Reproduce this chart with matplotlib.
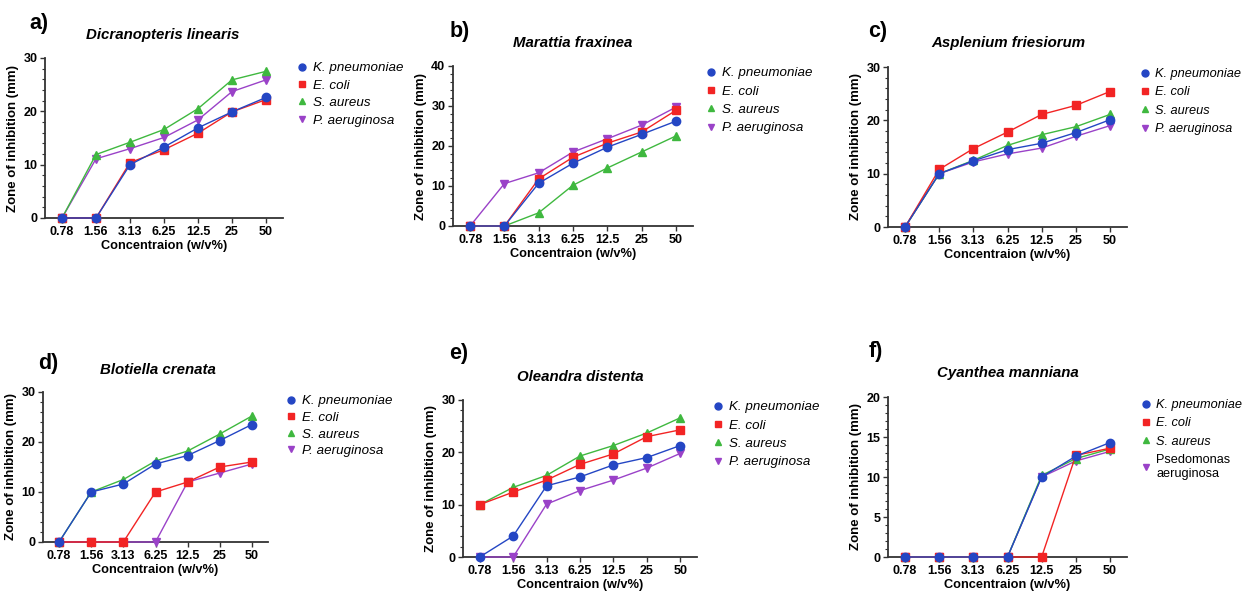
import matplotlib
matplotlib.use("Agg")
import matplotlib.pyplot as plt
from matplotlib.lines import Line2D
from matplotlib.ticker import MultipleLocator, AutoMinorLocator

plt.rcParams['font.family'] = ['Liberation Sans', 'DejaVu Sans']

concentrations = ["0.78", "1.56", "3.13", "6.25", "12.5", "25", "50"]
series_names = ["K. pneumoniae", "E. coli", "S. aureus", "P. aeruginosa"]

# a) Dicranopteris linearis
a_kp = [0, 0, 10.0, 13.3, 16.9, 19.9, 22.6]
a_ec = [0, 0, 10.4, 12.8, 15.9, 19.9, 22.2]
a_sa = [0, 11.9, 14.2, 16.6, 20.5, 25.9, 27.5]
a_pa = [0, 11.1, 13.0, 15.1, 18.4, 23.7, 25.9]

# b) Marattia fraxinea
b_kp = [0, 0, 10.7, 15.7, 19.7, 22.9, 26.2]
b_ec = [0, 0, 11.8, 17.2, 20.7, 23.5, 28.9]
b_sa = [0, 0, 3.3, 10.2, 14.5, 18.5, 22.5]
b_pa = [0, 10.6, 13.3, 18.5, 21.8, 25.2, 29.7]

# c) Asplenium friesiorum
c_kp = [0, 10.0, 12.4, 14.5, 15.7, 17.7, 20.1]
c_ec = [0, 10.8, 14.7, 17.8, 21.1, 22.8, 25.4]
c_sa = [0, 10.0, 12.5, 15.3, 17.3, 18.8, 21.1]
c_pa = [0, 10.0, 12.2, 13.7, 14.8, 17.0, 19.0]

# d) Blotiella crenata
d_kp = [0, 10.0, 11.6, 15.6, 17.3, 20.3, 23.5]
d_ec = [0, 0, 0, 10.0, 12.0, 15.0, 16.0]
d_sa = [0, 10.0, 12.5, 16.2, 18.2, 21.6, 25.2]
d_pa = [0, 0, 0, 0, 12.0, 13.8, 15.6]

# e) Oleandra distenta
e_kp = [0, 4.0, 13.6, 15.3, 17.6, 19.0, 21.3]
e_ec = [10.0, 12.4, 14.7, 17.7, 19.7, 23.0, 24.3]
e_sa = [10.0, 13.3, 15.6, 19.3, 21.3, 23.7, 26.6]
e_pa = [0, 0, 10.1, 12.7, 14.7, 17.0, 19.8]

# f) Cyanthea manniana
f_kp = [0, 0, 0, 0, 10.0, 12.6, 14.3]
f_ec = [0, 0, 0, 0, 0, 12.7, 13.6]
f_sa = [0, 0, 0, 0, 10.2, 12.3, 13.5]
f_pa = [0, 0, 0, 0, 10.0, 12.0, 13.2]

colors = ['#2446c4', '#f22424', '#3fb83f', '#9a42c8']
markers = ['o', 's', '^', 'v']
msizes = [6.0, 5.5, 5.5, 5.5]

panels = [
    dict(letter="a)", title="Dicranopteris linearis", data=[a_kp, a_ec, a_sa, a_pa], ymax=30, ystep=10,
         rect=(45, 58, 283, 218), leg=(297, 62), ttl=(163, 35), lt=(39, 24), names=series_names,
         lsp=0.38, lfs=9.6),
    dict(letter="b)", title="Marattia fraxinea", data=[b_kp, b_ec, b_sa, b_pa], ymax=40, ystep=10,
         rect=(453, 66, 693, 226), leg=(706, 67), ttl=(573, 43), lt=(460, 32), names=series_names,
         lsp=0.45, lfs=9.6),
    dict(letter="c)", title="Asplenium friesiorum", data=[c_kp, c_ec, c_sa, c_pa], ymax=30, ystep=10,
         rect=(888, 67, 1127, 227), leg=(1140, 68), ttl=(1008, 43), lt=(878, 32), names=series_names,
         lsp=0.5, lfs=9.2),
    dict(letter="d)", title="Blotiella crenata", data=[d_kp, d_ec, d_sa, d_pa], ymax=30, ystep=10,
         rect=(43, 392, 268, 542), leg=(286, 395), ttl=(158, 370), lt=(48, 363), names=series_names,
         lsp=0.32, lfs=9.6),
    dict(letter="e)", title="Oleandra distenta", data=[e_kp, e_ec, e_sa, e_pa], ymax=30, ystep=10,
         rect=(463, 400, 697, 557), leg=(713, 401), ttl=(580, 377), lt=(459, 353), names=series_names,
         lsp=0.45, lfs=9.6),
    dict(letter="f)", title="Cyanthea manniana", data=[f_kp, f_ec, f_sa, f_pa], ymax=20, ystep=5,
         rect=(888, 397, 1127, 557), leg=(1141, 399), ttl=(1008, 373), lt=(876, 352),
         names=["K. pneumoniae", "E. coli", "S. aureus", "Psedomonas\naeruginosa"],
         lsp=0.5, lfs=9.2),
]

W, H = 1246, 591
fig = plt.figure(figsize=(W / 100, H / 100), dpi=100)
x = list(range(len(concentrations)))

for p in panels:
    l, t, r, b = p['rect']
    ax = fig.add_axes([l / W, 1 - b / H, (r - l) / W, (b - t) / H])
    for i in [3, 2, 1, 0]:
        ax.plot(x, p['data'][i], color=colors[i], marker=markers[i], ms=msizes[i], lw=1.0,
                clip_on=False, zorder=3 + (3 - i))
    ax.set_xlim(-0.5, 6.5)
    ax.set_ylim(0, p['ymax'])
    ax.set_xticks(x)
    ax.set_xticklabels(concentrations)
    ax.yaxis.set_major_locator(MultipleLocator(p['ystep']))
    ax.yaxis.set_minor_locator(AutoMinorLocator(5))
    for s in ['top', 'right']:
        ax.spines[s].set_visible(False)
    for s in ['left', 'bottom']:
        ax.spines[s].set_linewidth(1.3)
        ax.spines[s].set_color('#333333')
    ax.tick_params(axis='both', which='major', length=3.5, width=1.0, color='#333333',
                   labelsize=9, pad=2)
    ax.tick_params(axis='y', which='minor', length=2, width=0.8, color='#333333')
    for lab in ax.get_xticklabels() + ax.get_yticklabels():
        lab.set_fontweight('bold')
    ax.set_xlabel("Concentraion (w/v%)", fontsize=9.2, fontweight='bold', labelpad=1.5)
    ax.set_ylabel("Zone of inhibition (mm)", fontsize=9.5, fontweight='bold', labelpad=3)

    handles = []
    for i in range(4):
        handles.append(Line2D([], [], color=colors[i], marker=markers[i], ms=5, ls='none'))
    leg = ax.legend(handles, p['names'], loc='upper left',
                    bbox_to_anchor=(p['leg'][0] / W, 1 - p['leg'][1] / H),
                    bbox_transform=fig.transFigure, frameon=False, fontsize=p['lfs'],
                    borderpad=0, borderaxespad=0, handlelength=0.8, handletextpad=0.4,
                    labelspacing=p['lsp'])
    for txt, nm in zip(leg.get_texts(), p['names']):
        if not nm.startswith("Psedomonas"):
            txt.set_fontstyle('italic')

    fig.text(p['ttl'][0] / W, 1 - p['ttl'][1] / H, p['title'], ha='center', va='center',
             fontsize=10.8, fontweight='bold', fontstyle='italic')
    fig.text(p['lt'][0] / W, 1 - p['lt'][1] / H, p['letter'], ha='center', va='center',
             fontsize=15.5, fontweight='bold')

fig.savefig("out.png", dpi=100)
